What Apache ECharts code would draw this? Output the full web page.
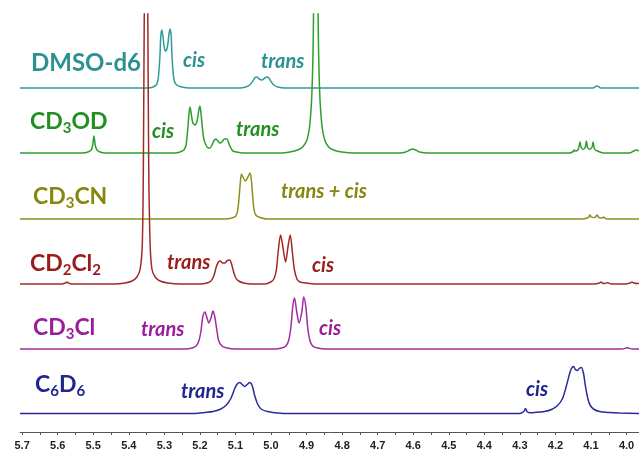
<!DOCTYPE html>
<html>
<head>
<meta charset="utf-8">
<script src="https://cdn.jsdelivr.net/npm/echarts@6/dist/echarts.min.js"></script>
<style>
  html, body { margin: 0; padding: 0; background: #ffffff; }
  #chart { width: 639px; height: 451px; }
</style>
</head>
<body>
<div id="chart"></div>
<script>
// Chemical shift axis (ppm)
const tickLabels = [5.7, 5.6, 5.5, 5.4, 5.3, 5.2, 5.1, 5.0, 4.9, 4.8, 4.7, 4.6, 4.5, 4.4, 4.3, 4.2, 4.1, 4.0];
const minorTicks = [5.65, 5.55, 5.45, 5.35, 5.25, 5.15, 5.05, 4.95, 4.85, 4.75, 4.65, 4.55, 4.45, 4.35, 4.25, 4.15, 4.05];

// Solvent names (rich text markup, subscripts in {s|...})
const solventNames = [
  '{n|DMSO-d6}',
  '{n|CD}{s|3}{n|OD}',
  '{n|CD}{s|3}{n|CN}',
  '{n|CD}{s|2}{n|Cl}{s|2}',
  '{n|CD}{s|3}{n|Cl}',
  '{n|C}{s|6}{n|D}{s|6}'
];

// Isomer assignments written next to the signals
const peakNotes = [
  ['cis', 'trans'],
  ['cis', 'trans'],
  ['trans + cis'],
  ['trans', 'cis'],
  ['trans', 'cis'],
  ['trans', 'cis']
];

// Spectra: [shift (ppm), intensity above own baseline]
const dmsoTrace = [
  [5.706,0],[5.345,0],[5.326,2],[5.319,6],[5.315,18],[5.312,35],[5.310,52],[5.307,58],[5.304,52],[5.300,40],
  [5.296,37],[5.291,42],[5.287,54],[5.284,59],[5.281,53],[5.279,36],[5.276,18],[5.272,7],[5.265,3],[5.251,1],[5.228,0],
  [5.088,0],[5.071,1],[5.060,3],[5.051,7],[5.046,10],[5.040,11],[5.033,9],[5.026,8],[5.019,9.5],[5.012,11],
  [5.006,10],[4.999,6],[4.992,3],[4.981,1],[4.961,0],
  [4.095,0],[4.083,2],[4.072,0],[3.965,0]
];

const methanolTrace = [
  [5.706,0],[5.530,0],[5.515,1],[5.506,3],[5.502,7],[5.498,17],[5.494,7],[5.489,3],[5.481,1],[5.465,0],
  [5.270,0],[5.256,1],[5.245,3],[5.239,8],[5.234,25],[5.231,38],[5.228,46],[5.225,41],[5.220,30],[5.214,28],
  [5.208,32],[5.203,43],[5.200,47],[5.197,40],[5.193,25],[5.189,14],[5.183,8],[5.177,5],[5.172,5],[5.166,8],
  [5.161,12],[5.155,14],[5.149,12],[5.144,10],[5.138,11],[5.131,14],[5.124,14],[5.119,10],[5.113,5],[5.107,2],
  [5.096,1],[5.074,0],
  [4.970,0],[4.947,1],[4.925,3],[4.911,6],[4.899,13],[4.891,28],[4.885,60],[4.881,120],[4.878,250],[4.876,420],
  [4.873,420],[4.870,250],[4.867,120],[4.863,60],[4.857,28],[4.849,13],[4.838,6],[4.824,3],[4.801,1],[4.765,0],
  [4.638,0],[4.621,1],[4.610,3],[4.602,4],[4.593,3],[4.582,1],[4.560,0],
  [4.160,0],[4.150,1.5],[4.147,3],[4.144,2],[4.137,3],[4.134,6],[4.131,11],[4.128,6],[4.122,3.5],[4.116,6],
  [4.113,12],[4.110,6],[4.104,3.5],[4.097,6],[4.094,11],[4.091,5],[4.086,2.5],[4.081,2],[4.075,1],[4.065,0],
  [3.992,0],[3.980,2],[3.972,3],[3.965,2]
];

const acetonitrileTrace = [
  [5.706,0],[5.130,0],[5.110,1],[5.099,3],[5.094,8],[5.089,25],[5.086,38],[5.083,45],[5.079,42],[5.072,38],
  [5.065,42],[5.059,46],[5.055,38],[5.052,25],[5.048,10],[5.043,4],[5.031,1.5],[5.009,0],
  [4.125,0],[4.110,1],[4.106,2],[4.103,4],[4.099,2],[4.093,1.5],[4.087,2],[4.083,4],[4.079,2],[4.074,1],
  [4.068,1],[4.065,2],[4.061,1],[4.055,0],[3.965,0]
];

const dichloromethaneTrace = [
  [5.706,0],[5.590,0],[5.578,1],[5.574,2],[5.570,1],[5.560,0],
  [5.440,0],[5.411,1],[5.391,3],[5.377,7],[5.368,15],[5.362,40],[5.359,120],[5.356,300],[5.353,420],[5.350,420],
  [5.347,300],[5.344,120],[5.340,40],[5.335,15],[5.326,7],[5.312,3],[5.290,1],[5.256,0],
  [5.200,0],[5.180,1],[5.169,3],[5.161,8],[5.154,17],[5.148,22],[5.143,23],[5.136,21],[5.130,21],[5.123,23.5],
  [5.116,24],[5.111,20],[5.105,12],[5.099,6],[5.091,3],[5.077,1],[5.054,0],
  [5.017,0],[5.001,2],[4.992,5],[4.985,14],[4.980,32],[4.973,49],[4.967,38],[4.959,22],[4.952,38],[4.946,49],
  [4.940,32],[4.934,14],[4.927,5],[4.919,2],[4.902,1],[4.877,0],
  [4.091,0],[4.076,1],[4.072,2],[4.068,1],[4.063,0.5],[4.053,1.2],[4.043,0],[4.004,0],[3.990,1],[3.985,2],
  [3.979,1],[3.969,0.5],[3.965,0.5]
];

const chloroformTrace = [
  [5.706,0],[5.242,0],[5.222,1],[5.211,3],[5.203,8],[5.197,18],[5.192,32],[5.186,37],[5.180,31],[5.175,26],
  [5.169,31],[5.163,38],[5.158,32],[5.152,18],[5.147,8],[5.138,3],[5.124,1],[5.102,0],
  [4.989,0],[4.970,1],[4.958,3],[4.950,9],[4.944,22],[4.939,42],[4.934,51],[4.928,38],[4.921,26],[4.913,38],
  [4.908,52],[4.902,42],[4.897,22],[4.891,9],[4.883,3],[4.869,1],[4.846,0],
  [4.012,0],[3.998,1.2],[3.984,0],[3.965,0]
];

const benzeneTrace = [
  [5.706,0],[5.214,0],[5.186,1],[5.163,2],[5.144,4],[5.127,8],[5.113,15],[5.102,25],[5.095,29.5],[5.088,31],
  [5.081,29],[5.074,27],[5.067,29],[5.060,31],[5.053,28],[5.046,18],[5.037,9],[5.026,4],[5.009,2],[4.981,0.5],[4.947,0],
  [4.300,0],[4.289,2],[4.284,5],[4.280,2],[4.273,0.8],[4.259,1],[4.231,2],[4.211,4],[4.194,8],[4.180,15],
  [4.169,28],[4.160,40],[4.155,45],[4.149,47],[4.144,44],[4.138,43],[4.133,45],[4.127,46],[4.121,40],[4.116,28],
  [4.109,15],[4.102,8],[4.091,4],[4.076,2],[4.048,1],[4.020,0.5],[3.965,0]
];

const traces = [dmsoTrace, methanolTrace, acetonitrileTrace, dichloromethaneTrace, chloroformTrace, benzeneTrace];

// ---- layout & style ----
const traceOffsets = [344, 279, 213, 148, 83, 18.5];   // vertical stacking of the spectra
const lineColors = ['#2f9a9a', '#2e9e2e', '#8e8e1c', '#a32828', '#a02ca0', '#2a2a9e'];
const textColors = ['#2b9191', '#228f22', '#87870f', '#9c1c1c', '#991e99', '#1f268e'];
const nameAnchors = [[31, 63], [30, 123], [33, 198], [30, 265], [33, 329], [35, 386]];
const nameSizes = [24, 23, 23, 23, 23, 23];
const noteAnchors = [
  [[183, 61], [261, 62]],
  [[152, 132], [236, 130]],
  [[281, 192]],
  [[167, 263], [312, 266]],
  [[141, 330], [319, 329]],
  [[181, 392], [526, 390]]
];

const chart = echarts.init(document.getElementById('chart'), null, { renderer: 'canvas' });

const series = traces.map((tr, i) => ({
  type: 'line',
  data: tr.map(p => [p[0], p[1] + traceOffsets[i]]),
  showSymbol: false,
  smooth: 0.3,
  clip: true,
  silent: true,
  z: 2 + i,
  lineStyle: { width: 1.5, color: lineColors[i] },
  itemStyle: { color: lineColors[i] }
}));

const graphics = [];
solventNames.forEach((txt, i) => {
  graphics.push({
    type: 'text',
    x: nameAnchors[i][0],
    y: nameAnchors[i][1],
    z: 100,
    silent: true,
    style: {
      text: txt,
      textAlign: 'left', textVerticalAlign: 'middle',
      align: 'left', verticalAlign: 'middle',
      fill: textColors[i],
      rich: {
        n: { fontFamily: 'Lato', fontWeight: 'bold', fontSize: nameSizes[i], fill: textColors[i], color: textColors[i], verticalAlign: 'top' },
        s: { fontFamily: 'Lato', fontWeight: 'bold', fontSize: 15, fill: textColors[i], color: textColors[i], verticalAlign: 'top', padding: [10, 0, 0, 0] }
      }
    }
  });
  peakNotes[i].forEach((note, j) => {
    graphics.push({
      type: 'text',
      x: noteAnchors[i][j][0],
      y: noteAnchors[i][j][1],
      z: 100,
      silent: true,
      style: {
        text: note,
        font: 'italic bold 20px Lato',
        fill: textColors[i],
        textAlign: 'left', textVerticalAlign: 'middle',
        align: 'left', verticalAlign: 'middle'
      }
    });
  });
});

chart.setOption({
  animation: false,
  backgroundColor: '#ffffff',
  grid: { left: 20, right: 0, top: 14, bottom: 19, containLabel: false, outerBoundsMode: 'none' },
  xAxis: {
    type: 'value',
    inverse: true,
    min: 3.965,
    max: 5.706,
    axisLine: { show: true, lineStyle: { color: '#555555', width: 1 } },
    axisTick: { show: true, customValues: tickLabels.concat(minorTicks), length: 3, lineStyle: { color: '#555555' } },
    axisLabel: {
      customValues: tickLabels,
      formatter: v => v.toFixed(1),
      fontFamily: 'Liberation Sans',
      fontWeight: 'bold',
      fontSize: 11,
      color: '#222222',
      margin: 8
    },
    splitLine: { show: false }
  },
  yAxis: { type: 'value', min: 0, max: 418, show: false },
  graphic: graphics,
  series: series
});
</script>
</body>
</html>
